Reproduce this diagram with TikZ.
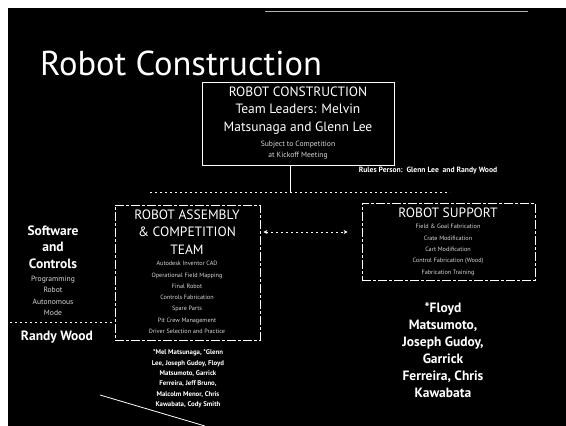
\documentclass[tikz,border=0pt]{standalone}
\usepackage{fontspec}
\setmainfont{PT Sans}
\usetikzlibrary{arrows.meta}
\begin{document}
\begin{tikzpicture}[x=1pt,y=-1pt,
  every node/.style={text=white, inner sep=0pt},
  solidbox/.style={draw=white, line width=0.8pt},
  brokenbox/.style={draw=white, line width=0.8pt, dash pattern=on 9pt off 2pt on 3pt off 2pt},
  conn/.style={draw=white, line width=0.6pt, dash pattern=on 2pt off 3pt},
  title/.style={font=\fontsize{34.5}{38}\selectfont, anchor=base west},
  head/.style={font=\fontsize{13.5}{17.5}\selectfont, align=center},
  small/.style={font=\fontsize{6.2}{11.3}\selectfont, align=center, text=white!85!black},
  bigsmall/.style={font=\fontsize{7.6}{10.5}\selectfont, align=center, text=white!85!black},
  crew/.style={font=\fontsize{6.8}{10.4}\selectfont\bfseries, align=center},
  side/.style={font=\fontsize{13.5}{16.5}\selectfont\bfseries, align=center},
  rulestext/.style={font=\fontsize{7.6}{9}\selectfont\bfseries}]
\useasboundingbox (0,0) rectangle (566,426);
\fill[white] (0,0) rectangle (566,426);
\fill[black] (8,8) rectangle (566,426);
\draw[gray!60, line width=0.8pt] (265,11) -- (528,11);

\node[title] (ttl) at (40,75) {Robot Construction};

% top box
\node[solidbox, minimum width=192pt, minimum height=83pt] (topbox) at (298,123.5) {};
\node[head] (tophead) at (298,110.5) {ROBOT CONSTRUCTION\\Team Leaders: Melvin\\Matsunaga and Glenn Lee};
\node[bigsmall] (topsmall) at (298,150) {Subject to Competition\\at Kickoff Meeting};
\node[rulestext] (rules) at (428,171) {Rules Person:\ \ Glenn Lee\ \ and Randy Wood};

% connector
\coordinate (j) at (290,192);
\coordinate (hl) at (150,192);
\coordinate (hr) at (450,192);
\draw[white, line width=0.6pt] (topbox.south -| j) -- (j);
\draw[conn] (hl) -- (hr);

% assembly box
\node[brokenbox, minimum width=145pt, minimum height=135pt] (asm) at (187.5,272.5) {};
\node[head] (asmhead) at (187,232) {ROBOT ASSEMBLY\\\& COMPETITION\\TEAM};
\node[small] (asmsmall) at (187,297.5) {Autodesk Inventor CAD\\Operational Field Mapping\\Final Robot\\Controls Fabrication\\Spare Parts\\Pit Crew Management\\Driver Selection and Practice};
\node[crew] (asmcrew) at (188,379) {*Mel Matsunaga, *Glenn\\Lee, Joseph Gudoy, Floyd\\Matsumoto, Garrick\\Ferreira, Jeff Bruno,\\Malcolm Menor, Chris\\Kawabata, Cody Smith};

% support box
\node[brokenbox, minimum width=173pt, minimum height=77pt] (sup) at (448.5,241.5) {};
\node[head] (suphead) at (448,213) {ROBOT SUPPORT};
\node[small] (supsmall) at (448,250) {Field \& Goal Fabrication\\Crate Modification\\Cart Modification\\Control Fabrication (Wood)\\Fabrication Training};

% double arrow
\coordinate (ay) at (0,232);
\draw[conn, {Stealth[length=4pt,width=4pt]}-{Stealth[length=4pt,width=4pt]}] ([xshift=3pt]asm.east |- ay) -- ([xshift=-14pt]sup.west |- ay);

% software and controls
\node[side] (soft) at (53,247) {Software\\and\\Controls};
\node[bigsmall, font=\fontsize{7.6}{11.3}\selectfont] (softsmall) at (53,296) {Programming\\Robot\\Autonomous\\Mode};
\coordinate (sl) at (10,322);
\coordinate (sr) at (112,322);
\draw[conn] (sl) -- (sr);
\node[side] (randy) at (57,337) {Randy Wood};

% support crew
\node[side, font=\fontsize{13.5}{17}\selectfont\bfseries] (supcrew) at (443,350) {*Floyd\\Matsumoto,\\Joseph Gudoy,\\Garrick\\Ferreira, Chris\\Kawabata};

% stray line
\coordinate (d1) at (100,395);
\coordinate (d2) at (205,426);
\draw[white, line width=0.8pt] (d1) -- (d2);
\end{tikzpicture}
\end{document}
